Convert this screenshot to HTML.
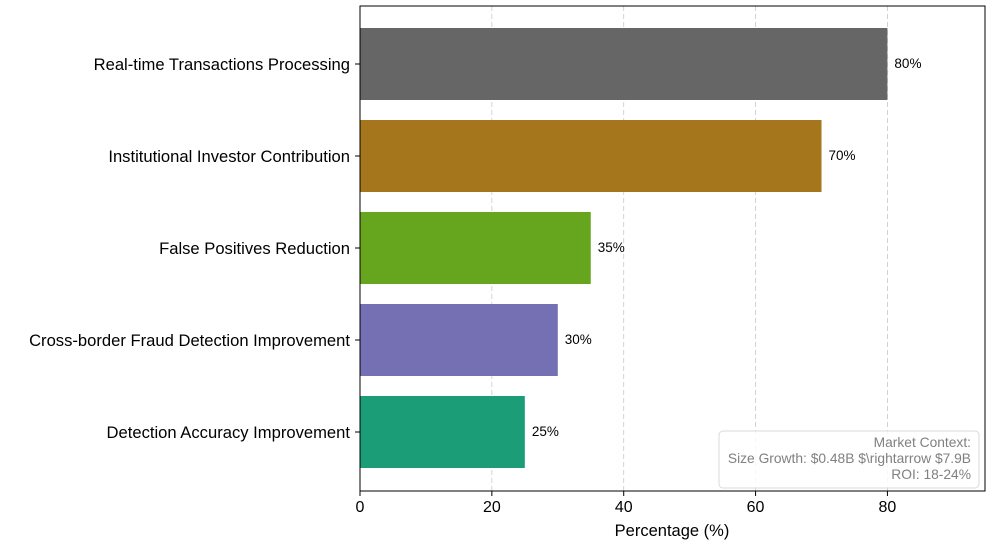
<!DOCTYPE html>
<html><head><meta charset="utf-8"><style>
body{margin:0;background:#fff;}
svg{display:block;font-family:"Liberation Sans",sans-serif;}
</style></head><body>
<svg id="chart" width="1000" height="555"></svg>
<script>
const categories = ["Real-time Transactions Processing","Institutional Investor Contribution","False Positives Reduction","Cross-border Fraud Detection Improvement","Detection Accuracy Improvement"];
const values = [80, 70, 35, 30, 25];
const colors = ["#666666","#a6761d","#66a61e","#7570b3","#1b9e77"];
const xTicks = [0, 20, 40, 60, 80];
const NS = "http://www.w3.org/2000/svg";
const svg = document.getElementById("chart");
const L = 360, R = 985, T = 6, B = 491, XMAX = 94.8;
const x = v => L + v / XMAX * (R - L);
const step = 92;
const yc = i => 64 + step * i;
const bh = 72;
function mk(tag, attrs, text){
  const e = document.createElementNS(NS, tag);
  for (const k in attrs) e.setAttribute(k, attrs[k]);
  if (text !== undefined) e.textContent = text;
  svg.appendChild(e);
  return e;
}
xTicks.forEach(t => {
  if (t > 0) {
    const g = mk("line", {x1:x(t), x2:x(t), y1:T, y2:B, stroke:"#c8c8c8", "stroke-dasharray":"5,3", "stroke-width":0.8});
    
    
  }
  const tk = mk("line", {x1:x(t), x2:x(t), y1:B, y2:B+5, stroke:"#000"});
  
  
  const tl = mk("text", {x:x(t), y:B+21, "text-anchor":"middle", "font-size":16}, String(t));
  
  
});
categories.forEach((c, i) => {
  const r = mk("rect", {x:L, y:yc(i)-bh/2, width:x(values[i])-L, height:bh, fill:colors[i]});
  
  
  const v = mk("text", {x:x(values[i])+7, y:yc(i)+4, "font-size":13.5}, values[i] + "%");
  
  
  const tk = mk("line", {x1:L-5, x2:L, y1:yc(i), y2:yc(i), stroke:"#000"});
  
  
  const lb = mk("text", {x:L-10, y:yc(i)+6, "text-anchor":"end", "font-size":16.6}, c);
  
  
});
const frame = mk("rect", {x:L, y:T, width:R-L, height:B-T, fill:"none", stroke:"#000", "stroke-width":1});


const xt = mk("text", {x:672, y:536, "text-anchor":"middle", "font-size":16.5}, "Percentage (%)");


const box = mk("rect", {x:719, y:431, width:260, height:57, rx:4, fill:"#fff", "fill-opacity":0.85, stroke:"#d8d8d8"});


["Market Context:", "Size Growth: $0.48B $\\rightarrow $7.9B", "ROI: 18-24%"].forEach((s, i) => {
  const t = mk("text", {x:971, y:447+i*16, "text-anchor":"end", "font-size":13.8, fill:"#808080"}, s);
  
  
});
</script>
</body></html>
